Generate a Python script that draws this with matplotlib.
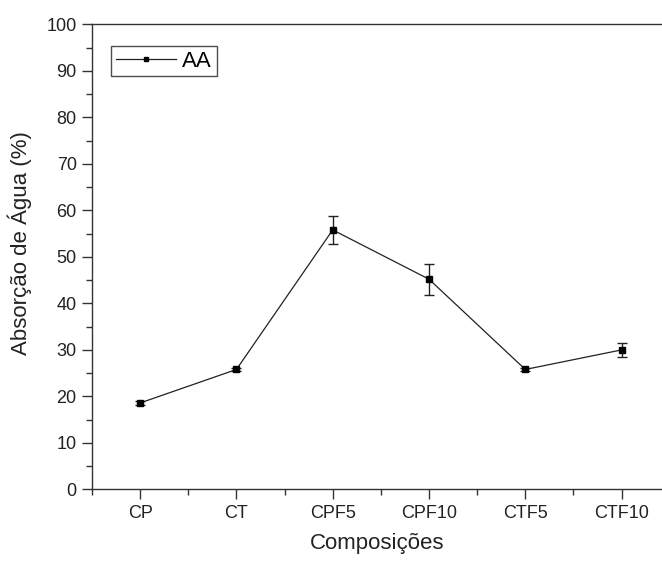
import matplotlib
matplotlib.use("Agg")
import matplotlib.pyplot as plt
from matplotlib.lines import Line2D
from matplotlib.ticker import MultipleLocator, FixedLocator

plt.rcParams["font.family"] = ["Liberation Sans", "DejaVu Sans"]

# dados
composicoes = ["CP", "CT", "CPF5", "CPF10", "CTF5", "CTF10"]
absorcao = [18.6, 25.8, 55.8, 45.2, 25.8, 30.0]
desvio = [0.5, 0.4, 3.0, 3.3, 0.3, 1.5]

x = list(range(len(composicoes)))
cor = "#222222"

fig = plt.figure(figsize=(6.62, 5.61), dpi=100)
ax = fig.add_axes([0.139, 0.1275, 0.861, 0.8292])

ax.errorbar(x, absorcao, yerr=desvio, color=cor, lw=0.9,
            marker="s", ms=5, mfc="black", mec="black",
            ecolor=cor, elinewidth=1.0, capsize=3.6, capthick=1.0)

ax.set_xlim(-0.5, 5.42)
ax.set_ylim(0, 100)
ax.set_xticks(x)
ax.set_xticklabels(composicoes)
ax.xaxis.set_minor_locator(FixedLocator([i + 0.5 for i in range(-1, len(x))]))
ax.yaxis.set_major_locator(MultipleLocator(10))
ax.yaxis.set_minor_locator(MultipleLocator(5))

for s in ("left", "bottom", "top"):
    ax.spines[s].set_color("#333333")
    ax.spines[s].set_linewidth(1.0)
ax.spines["right"].set_visible(False)

ax.tick_params(which="major", direction="out", length=7, width=1.0,
               color="#333333", labelsize=13, labelcolor=cor, pad=4)
ax.tick_params(which="minor", direction="out", length=4, width=1.0,
               color="#333333")
ax.tick_params(top=False, right=False, which="both")

ax.set_xlabel("Composições", fontsize=16, color=cor, labelpad=8)
ax.set_ylabel("Absorção de Água (%)", fontsize=16, color=cor)
ax.yaxis.set_label_coords(-0.105, 0.53)

handle = Line2D([], [], color=cor, lw=0.9, marker="s", ms=3.5,
                mfc="black", mec="black")
leg = ax.legend([handle], ["AA"], loc="upper left",
                bbox_to_anchor=(0.033, 0.954), fontsize=16,
                frameon=True, fancybox=False, handlelength=2.7,
                borderpad=0.22, handletextpad=0.3, borderaxespad=0)
leg.get_frame().set_edgecolor(cor)
leg.get_frame().set_linewidth(1.0)

fig.savefig("out.png", dpi=100)
plt.close(fig)
